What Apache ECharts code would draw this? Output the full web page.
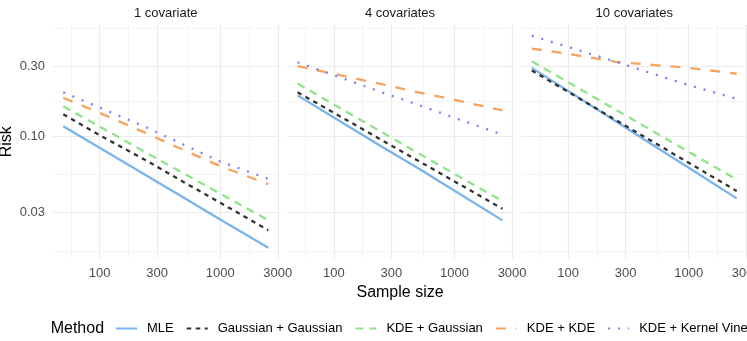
<!DOCTYPE html>
<html>
<head>
<meta charset="utf-8">
<script src="https://cdn.jsdelivr.net/npm/echarts@6/dist/echarts.min.js"></script>
<style>
html, body { margin: 0; padding: 0; background: #fff; }
#main { width: 747px; height: 341px; }
</style>
</head>
<body>
<div id="main"></div>
<script>
var sampleSizes = [50, 100, 250, 500, 1000, 2500];
var panels = ['1 covariate', '4 covariates', '10 covariates'];
var methods = ['MLE', 'Gaussian + Gaussian', 'KDE + Gaussian', 'KDE + KDE', 'KDE + Kernel Vine'];

// one row per panel (1, 4, 10 covariates)
var mle = [
    [0.117, 0.0834, 0.0532, 0.0380, 0.0270, 0.0173],
    [0.190, 0.134, 0.0847, 0.0603, 0.0424, 0.0266],
    [0.293, 0.204, 0.126, 0.0873, 0.0608, 0.0376]
];
var gaussGauss = [
    [0.141, 0.1016, 0.0674, 0.0485, 0.0351, 0.0228],
    [0.1995, 0.1445, 0.0939, 0.0679, 0.0491, 0.0319],
    [0.281, 0.201, 0.1285, 0.092, 0.0658, 0.0422]
];
var kdeGauss = [
    [0.160, 0.1164, 0.0762, 0.0556, 0.0405, 0.0267],
    [0.229, 0.1644, 0.1064, 0.0765, 0.0553, 0.0360],
    [0.325, 0.234, 0.1514, 0.1089, 0.0783, 0.0506]
];
var kdeKde = [
    [0.183, 0.1445, 0.1038, 0.0802, 0.0624, 0.0470],
    [0.301, 0.267, 0.2265, 0.1995, 0.177, 0.150],
    [0.397, 0.365, 0.322, 0.307, 0.293, 0.267]
];
var kdeVine = [
    [0.1995, 0.157, 0.114, 0.0873, 0.0671, 0.0512],
    [0.320, 0.261, 0.1995, 0.1637, 0.1336, 0.1023],
    [0.486, 0.407, 0.322, 0.268, 0.2229, 0.180]
];

var xTicks = [100, 300, 1000, 3000];
var yTicks = [0.03, 0.1, 0.3];
var xMinor = [57.74, 173.2, 547.7, 1732];
var yMinor = [0.01644, 0.05477, 0.1732, 0.5477];

var FONT = '"Liberation Sans", Arial, Helvetica, sans-serif';
var colors = ['#79B4EA', '#333333', '#8FE388', '#F5A35F', '#7E7EF0'];
var dashes = ['solid', [4.5, 4.5], [8, 6], [10, 10], [2, 8]];
var rows = [mle, gaussGauss, kdeGauss, kdeKde, kdeVine];

var lefts = [53, 287.3, 521.5];
var gridW = 225.5, gridTop = 25, gridH = 233.5;

var grids = [], xAxes = [], yAxes = [], series = [], graphics = [];

lefts.forEach(function (l, p) {
    grids.push({ left: l, top: gridTop, width: gridW, height: gridH, outerBoundsMode: 'none', containLabel: false });
    graphics.push({
        type: 'text', x: l + gridW / 2, y: 13,
        style: { text: panels[p], fontSize: 13, fontFamily: FONT, fill: '#1A1A1A', align: 'center', verticalAlign: 'middle' }
    });
});

// major axes (labels + major grid)
lefts.forEach(function (l, p) {
    xAxes.push({
        type: 'log', gridIndex: p, min: 41.1, max: 3041,
        axisLine: { show: false },
        axisTick: { show: false, customValues: xTicks },
        axisLabel: {
            customValues: xTicks, fontSize: 13, color: '#4D4D4D', margin: 8, fontFamily: FONT,
            alignMinLabel: 'center', alignMaxLabel: 'center',
            formatter: function (v) { return String(Math.round(v)); }
        },
        splitLine: { show: true, lineStyle: { color: '#EBEBEB', width: 1.2 } },
        name: p === 1 ? 'Sample size' : '', nameLocation: 'middle', nameGap: 24,
        nameTextStyle: { fontSize: 16, color: '#000', fontFamily: FONT }
    });
    yAxes.push({
        type: 'log', gridIndex: p, min: 0.0146, max: 0.575,
        axisLine: { show: false },
        axisTick: { show: false, customValues: yTicks },
        axisLabel: {
            show: p === 0, customValues: yTicks, fontSize: 13, color: '#4D4D4D', margin: 8, fontFamily: FONT,
            formatter: function (v) { return v.toFixed(2); }
        },
        splitLine: { show: true, lineStyle: { color: '#EBEBEB', width: 1.2 } },
        name: p === 0 ? 'Risk' : '', nameLocation: 'middle', nameGap: 38, nameRotate: 90,
        nameTextStyle: { fontSize: 16, color: '#000', fontFamily: FONT }
    });
});
// minor grid axes
lefts.forEach(function (l, p) {
    xAxes.push({
        type: 'log', gridIndex: p, min: 41.1, max: 3041,
        axisLine: { show: false }, axisLabel: { show: false },
        axisTick: { show: false, customValues: xMinor },
        splitLine: { show: true, lineStyle: { color: '#EFEFEF', width: 0.7 } }
    });
    yAxes.push({
        type: 'log', gridIndex: p, min: 0.0146, max: 0.575,
        axisLine: { show: false }, axisLabel: { show: false },
        axisTick: { show: false, customValues: yMinor },
        splitLine: { show: true, lineStyle: { color: '#EFEFEF', width: 0.7 } }
    });
});

lefts.forEach(function (l, p) {
    methods.forEach(function (m, k) {
        series.push({
            type: 'line', name: m, xAxisIndex: p, yAxisIndex: p,
            symbol: 'none', silent: true,
            data: sampleSizes.map(function (n, i) { return [n, rows[k][p][i]]; }),
            itemStyle: { color: colors[k] },
            lineStyle: { color: colors[k], width: 2.3, type: dashes[k] }
        });
    });
});

graphics.push({
    type: 'text', x: 50.7, y: 328.5,
    style: { text: 'Method', fontSize: 16, fontFamily: FONT, fill: '#000', verticalAlign: 'middle' }
});

var myChart = echarts.init(document.getElementById('main'));
myChart.setOption({
    animation: false,
    textStyle: { fontFamily: FONT },
    grid: grids,
    xAxis: xAxes,
    yAxis: yAxes,
    legend: {
        data: methods, left: 115, top: 322, width: 700, padding: 0,
        itemWidth: 21, itemHeight: 14, itemGap: 12,
        itemStyle: { opacity: 0 },
        textStyle: { fontSize: 13, color: '#000', fontFamily: FONT, padding: [0, 0, 0, 5] }
    },
    graphic: graphics,
    series: series
});
</script>
</body>
</html>
